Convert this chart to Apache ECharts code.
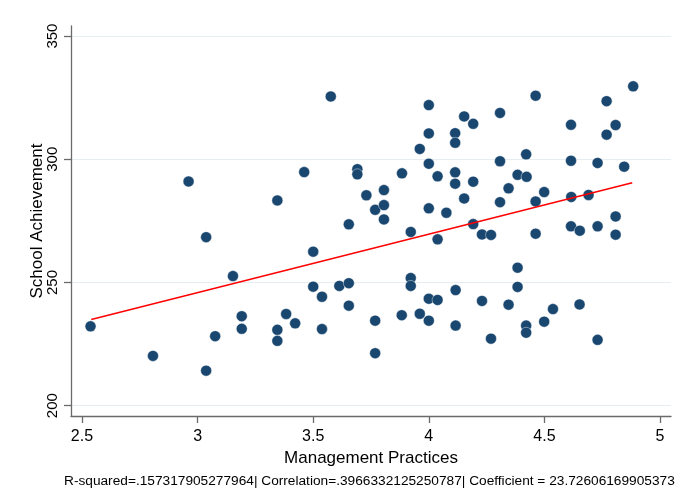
<!DOCTYPE html>
<html>
<head>
<meta charset="utf-8">
<title>School Achievement vs Management Practices</title>
<script src="https://cdn.jsdelivr.net/npm/echarts@6/dist/echarts.min.js"></script>
<style>
  html, body { margin: 0; padding: 0; background: #fff; }
  #chart { width: 681px; height: 499px; }
</style>
</head>
<body>
<div id="chart"></div>
<script>
// management practices score (x) for each school
const mgmtScores = [
  3.576, 2.961, 3.461, 3.691, 3.691, 3.730, 3.768, 3.806, 3.654, 3.345,
  3.037, 3.500, 3.153, 3.500, 3.613, 3.654, 3.538, 3.654, 3.768, 3.191,
  3.383, 3.422, 3.191, 3.345, 3.538, 3.345, 3.076, 2.537, 2.807, 3.037,
  3.768, 3.806, 3.806, 4.000, 4.076, 4.153, 4.308, 4.462, 4.616, 4.691,
  4.192, 3.922, 4.038, 4.230, 4.269, 4.462, 4.615, 4.653, 4.730, 4.808,
  4.808, 4.384, 4.384, 3.922, 3.922, 4.000, 4.038, 4.116, 4.230, 4.345,
  4.537, 4.652, 3.883, 3.961, 4.000, 4.116, 4.421, 4.421, 4.499, 4.269,
  4.730, 4.884, 4.462, 4.769, 4.000, 4.308, 4.153, 4.192, 4.615, 4.808,
  4.000, 4.114, 4.114, 4.769, 3.961, 4.000, 4.308, 4.421, 4.615, 4.730,
  4.845, 3.884, 4.038, 4.114, 4.114, 4.384, 4.423, 4.192, 4.345, 4.499
]

// school achievement (y), same order as above
const achievement = [
  325.5, 291.0, 294.8, 296.0, 293.9, 285.4, 279.5, 287.5, 273.6, 283.3,
  268.4, 262.5, 252.6, 248.3, 248.6, 249.7, 244.2, 240.6, 234.5, 236.3,
  237.2, 233.4, 231.2, 230.8, 231.1, 226.3, 228.2, 232.2, 220.2, 214.2,
  221.3, 281.4, 275.6, 280.1, 278.3, 284.1, 282.6, 282.9, 284.7, 285.5,
  273.7, 270.5, 267.5, 269.5, 269.3, 269.8, 272.8, 271.0, 272.8, 276.8,
  269.4, 256.0, 248.2, 251.8, 248.6, 243.4, 242.9, 246.9, 242.5, 241.0,
  239.2, 241.1, 236.7, 237.3, 234.5, 232.5, 232.5, 229.6, 234.1, 227.2,
  226.7, 329.6, 325.8, 323.6, 322.0, 318.8, 317.4, 314.4, 314.0, 313.9,
  310.5, 310.6, 306.7, 310.0, 304.2, 298.2, 299.2, 302.0, 299.4, 298.5,
  297.0, 294.3, 293.1, 294.7, 290.1, 293.7, 292.9, 290.9, 288.2, 286.7
]

// fitted line, ends
const fitX = [2.54, 4.88]
const fitY = [235.0, 290.5]

// tick labels
const xTicks = [2.5, 3, 3.5, 4, 4.5, 5]
const yTicks = [200, 250, 300, 350]

const caption = 'R-squared=.157317905277964| Correlation=.3966332125250787| Coefficient = 23.72606169905373'

const FONT = '"Liberation Sans", Arial, sans-serif'
const AXIS_COLOR = '#6a6a6a'

const chart = echarts.init(document.getElementById('chart'), null, { renderer: 'canvas' })

const option = {
  backgroundColor: '#ffffff',
  animation: false,
  title: {
    text: caption,
    left: 64,
    top: 474,
    padding: 0,
    textStyle: {
      fontFamily: FONT,
      fontSize: 13.7,
      fontWeight: 'normal',
      color: '#000'
    }
  },
  grid: {
    left: 71,
    right: 10,
    top: 26,
    bottom: 83
  },
  xAxis: {
    type: 'value',
    min: 2.4525,
    max: 5.0475,
    name: 'Management Practices',
    nameLocation: 'middle',
    nameGap: 34,
    nameMoveOverlap: false,
    nameTextStyle: { fontFamily: FONT, fontSize: 17, color: '#000' },
    axisLine: { lineStyle: { color: AXIS_COLOR, width: 1.3 } },
    axisTick: { customValues: xTicks, length: 7, lineStyle: { color: AXIS_COLOR, width: 1.3 } },
    axisLabel: {
      customValues: xTicks,
      margin: 13,
      fontFamily: FONT,
      fontSize: 16,
      color: '#000'
    },
    splitLine: { show: false }
  },
  yAxis: {
    type: 'value',
    min: 195.8,
    max: 354.1,
    name: 'School Achievement',
    nameLocation: 'middle',
    nameRotate: 90,
    nameGap: 25.5,
    nameMoveOverlap: false,
    nameTextStyle: { fontFamily: FONT, fontSize: 17, color: '#000' },
    axisLine: { show: true, lineStyle: { color: AXIS_COLOR, width: 1.3 } },
    axisTick: { show: true, customValues: yTicks, length: 7, lineStyle: { color: AXIS_COLOR, width: 1.3 } },
    axisLabel: {
      customValues: yTicks,
      rotate: 90,
      margin: 11,
      fontFamily: FONT,
      fontSize: 15,
      color: '#000'
    },
    splitLine: { show: true, lineStyle: { color: '#e6eef1', width: 1.2 } }
  },
  series: [
    {
      name: 'schools',
      type: 'scatter',
      data: mgmtScores.map((x, i) => [x, achievement[i]]),
      symbol: 'circle',
      symbolSize: 11,
      itemStyle: {
        color: '#1a476f',
        opacity: 1,
        borderColor: 'rgba(255,255,255,0.7)',
        borderWidth: 0.6
      },
      silent: true
    },
    {
      name: 'fit',
      type: 'line',
      data: fitX.map((x, i) => [x, fitY[i]]),
      showSymbol: false,
      lineStyle: { color: '#ff0000', width: 1.5 },
      silent: true,
      z: 3
    }
  ]
}

chart.setOption(option)
</script>
</body>
</html>
